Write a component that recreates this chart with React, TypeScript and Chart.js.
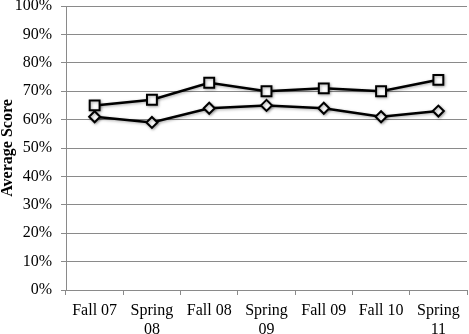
import React, { useEffect, useRef } from "react";
import { Chart, registerables } from "chart.js";

Chart.register(...registerables);

const categories: (string | string[])[] = [
  "Fall 07",
  ["Spring", "08"],
  "Fall 08",
  ["Spring", "09"],
  "Fall 09",
  "Fall 10",
  ["Spring", "11"],
];
const squareSeries = [65, 67, 73, 70, 71, 70, 74];
const diamondSeries = [61, 59, 64, 65, 64, 61, 63];
const yTicks = { min: 0, max: 100, step: 10 };
const yTitle = "Average Score";

const shadowPlugin = {
  id: "markerShadow",
  beforeDatasetsDraw(chart: any) {
    const ctx = chart.ctx;
    ctx.save();
    ctx.shadowColor = "rgba(0,0,0,0.35)";
    ctx.shadowBlur = 3;
    ctx.shadowOffsetX = 1;
    ctx.shadowOffsetY = 1;
  },
  afterDatasetsDraw(chart: any) {
    chart.ctx.restore();
  },
};

export default function App() {
  const ref = useRef<HTMLCanvasElement>(null);
  useEffect(() => {
    document.body.style.margin = "0";
    const font = "'Liberation Serif', 'Times New Roman', serif";
    const grey = "#8a8a8a";
    const chart = new Chart(ref.current!, {
      type: "line",
      data: {
        labels: categories,
        datasets: [
          {
            data: squareSeries,
            borderColor: "#000",
            borderWidth: 2.5,
            pointStyle: "rect",
            pointRadius: 7,
            pointBorderWidth: 2,
            pointBackgroundColor: "#fff",
            pointBorderColor: "#000",
            tension: 0,
          },
          {
            data: diamondSeries,
            borderColor: "#000",
            borderWidth: 2.5,
            pointStyle: "rectRot",
            pointRadius: 5.5,
            pointBorderWidth: 2,
            pointBackgroundColor: "#fff",
            pointBorderColor: "#000",
            tension: 0,
          },
        ],
      },
      options: {
        animation: false,
        responsive: false,
        devicePixelRatio: 1,
        layout: { autoPadding: false, padding: { left: 0, right: 2, top: 0, bottom: 0 } },
        plugins: {
          legend: { display: false },
          tooltip: { enabled: false },
        },
        scales: {
          x: {
            offset: true,
            afterFit: (s: any) => {
              s.height = 44;
              s.paddingLeft = 0;
              s.paddingRight = 0;
            },
            grid: {
              offset: true,
              drawOnChartArea: false,
              color: grey,
              tickLength: 5,
              lineWidth: 1,
            },
            border: { color: grey, width: 1 },
            ticks: {
              color: "#000",
              font: { family: font, size: 16, lineHeight: 1.2 },
              padding: 6,
              maxRotation: 0,
              autoSkip: false,
            },
          },
          y: {
            min: yTicks.min,
            max: yTicks.max,
            afterFit: (s: any) => {
              s.width = 66;
              s.paddingTop = 6;
              s.paddingBottom = 0;
            },
            grid: { color: grey, tickLength: 5, lineWidth: 1 },
            border: { color: grey, width: 1 },
            ticks: {
              stepSize: yTicks.step,
              color: "#000",
              font: { family: font, size: 16, lineHeight: 1.2 },
              padding: 9,
              callback: (v: any) => v + "%",
            },
            title: {
              display: true,
              text: yTitle,
              color: "#000",
              font: { family: font, size: 16, weight: "bold", lineHeight: 1 },
              padding: 0,
            },
          },
        },
      },
      plugins: [shadowPlugin],
    });
    return () => chart.destroy();
  }, []);
  return (
    <div style={{ width: 469, height: 334 }}>
      <canvas ref={ref} width={469} height={334} style={{ display: "block" }} />
    </div>
  );
}
